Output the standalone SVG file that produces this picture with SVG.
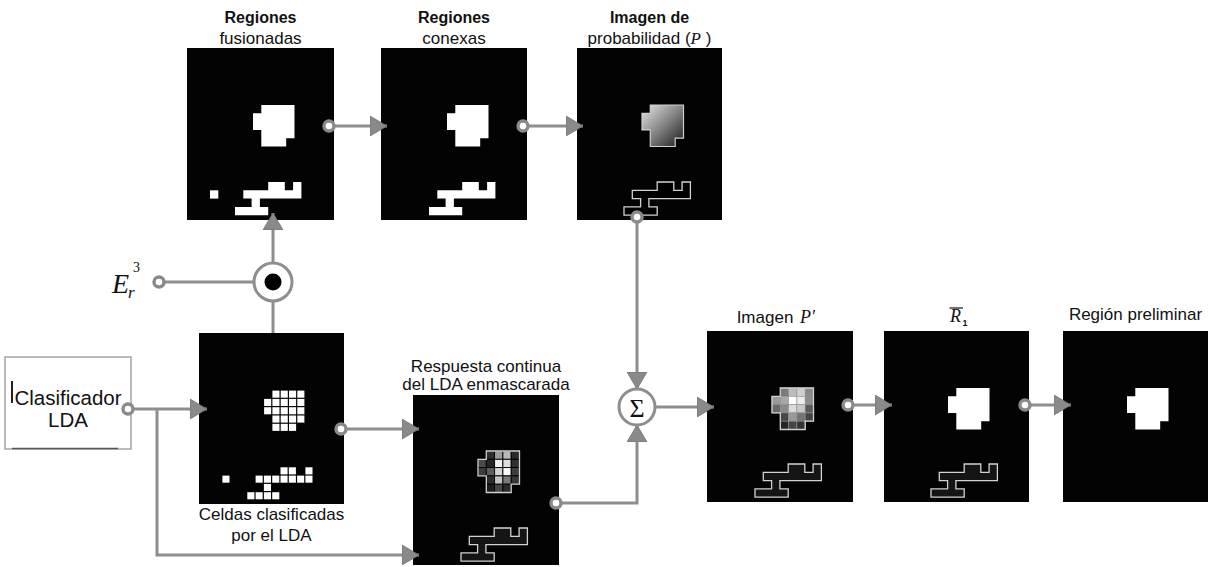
<svg xmlns="http://www.w3.org/2000/svg" xmlns:xlink="http://www.w3.org/1999/xlink" width="1211" height="567" viewBox="0 0 1211 567">
  <style>
    .panel { fill: #030303; }
    .white { fill: #ffffff; }
    .outline { fill: #151515; stroke: #d2d2d2; stroke-width: 1.3; }
    .outline-black { fill: #000000; stroke: #d2d2d2; stroke-width: 1.3; }
    .lbl { font-family: "Liberation Sans", Arial, sans-serif; font-size: 17px; fill: #111; text-anchor: middle; }
    .lblb { font-family: "Liberation Sans", Arial, sans-serif; font-size: 16px; font-weight: bold; fill: #111; text-anchor: middle; }
    .math { font-family: "Liberation Serif", "DejaVu Serif", serif; font-style: italic; fill: #111; }
    .wire { fill: none; stroke: #8e8e8e; stroke-width: 3; }
    .tap { fill: #ffffff; stroke: #8a8a8a; stroke-width: 3.4; }
    .op { fill: #ffffff; stroke: #8e8e8e; stroke-width: 3; }
    .cellg { stroke: #000; stroke-width: 0.9; }
    .cellp { stroke: #9a9a9a; stroke-width: 0.6; }
  </style>
  <defs>
    <!-- cell-grid shapes, cell size 8.3 -->
    <path id="blob" d="M8.3,0H41.5V33.2H33.2V41.5H8.3V24.9H0V8.3H8.3Z"/>
    <path id="lower" d="M33.2,0H49.8V8.3H58.1V0H66.4V16.6H24.9V24.9H33.2V33.2H0V24.9H16.6V16.6H8.3V8.3H33.2Z"/>
    <linearGradient id="probGrad" x1="0" y1="0" x2="1" y2="1">
      <stop offset="0" stop-color="#e8e8e8"/>
      <stop offset="0.45" stop-color="#8e8e8e"/>
      <stop offset="1" stop-color="#1a1a1a"/>
    </linearGradient>
    <marker id="head" markerUnits="userSpaceOnUse" viewBox="0 0 17 20" markerWidth="17" markerHeight="20" refX="17" refY="10" orient="auto">
      <path d="M0,0 L17,10 L0,20 Z" fill="#8a8a8a" stroke="#707070" stroke-width="0.8"/>
    </marker>
  </defs>

  <rect x="0" y="0" width="1211" height="567" fill="#ffffff"/>

  <!-- Regiones fusionadas -->
  <g id="panel-fusionadas">
    <text class="lblb" x="260.5" y="23">Regiones</text>
    <text class="lbl" x="260.5" y="44">fusionadas</text>
    <rect class="panel" x="187" y="48" width="147" height="172"/>
    <use href="#blob" x="253" y="105" class="white"/>
    <use href="#lower" x="235" y="182" class="white"/>
    <rect class="white" x="210" y="190.3" width="8.3" height="8.3"/>
  </g>

  <!-- Regiones conexas -->
  <g id="panel-conexas">
    <text class="lblb" x="454" y="23">Regiones</text>
    <text class="lbl" x="454" y="44">conexas</text>
    <rect class="panel" x="381" y="48" width="146" height="172"/>
    <use href="#blob" x="447" y="105" class="white"/>
    <use href="#lower" x="429" y="182" class="white"/>
  </g>

  <!-- Imagen de probabilidad -->
  <g id="panel-probabilidad">
    <text class="lblb" x="649.5" y="23">Imagen de</text>
    <text class="lbl" x="649.5" y="44">probabilidad (<tspan class="math">P</tspan> )</text>
    <rect class="panel" x="577" y="48" width="145" height="172"/>
    <use href="#blob" x="642" y="105" fill="url(#probGrad)" stroke="#cfcfcf" stroke-width="1.2"/>
    <use href="#lower" x="624" y="182" class="outline-black"/>
  </g>

  <!-- Celdas clasificadas por el LDA -->
  <g id="panel-celdas">
    <rect class="panel" x="199" y="333" width="145" height="171"/>
    <g transform="translate(263.5,390)" fill="#ffffff">
      <rect x="8.9" y="0.6" width="7.1" height="7.1"/><rect x="17.2" y="0.6" width="7.1" height="7.1"/><rect x="25.5" y="0.6" width="7.1" height="7.1"/><rect x="33.8" y="0.6" width="7.1" height="7.1"/>
      <rect x="0.6" y="8.9" width="7.1" height="7.1"/><rect x="8.9" y="8.9" width="7.1" height="7.1"/><rect x="17.2" y="8.9" width="7.1" height="7.1"/><rect x="25.5" y="8.9" width="7.1" height="7.1"/><rect x="33.8" y="8.9" width="7.1" height="7.1"/>
      <rect x="0.6" y="17.2" width="7.1" height="7.1"/><rect x="8.9" y="17.2" width="7.1" height="7.1"/><rect x="17.2" y="17.2" width="7.1" height="7.1"/><rect x="25.5" y="17.2" width="7.1" height="7.1"/><rect x="33.8" y="17.2" width="7.1" height="7.1"/>
      <rect x="8.9" y="25.5" width="7.1" height="7.1"/><rect x="17.2" y="25.5" width="7.1" height="7.1"/><rect x="25.5" y="25.5" width="7.1" height="7.1"/><rect x="33.8" y="25.5" width="7.1" height="7.1"/>
      <rect x="8.9" y="33.8" width="7.1" height="7.1"/><rect x="17.2" y="33.8" width="7.1" height="7.1"/><rect x="25.5" y="33.8" width="7.1" height="7.1"/>
    </g>
    <g transform="translate(246.7,466.7)" fill="#ffffff">
      <rect x="33.8" y="0.6" width="7.1" height="7.1"/><rect x="42.1" y="0.6" width="7.1" height="7.1"/><rect x="58.7" y="0.6" width="7.1" height="7.1"/>
      <rect x="8.9" y="8.9" width="7.1" height="7.1"/><rect x="17.2" y="8.9" width="7.1" height="7.1"/><rect x="25.5" y="8.9" width="7.1" height="7.1"/><rect x="33.8" y="8.9" width="7.1" height="7.1"/><rect x="42.1" y="8.9" width="7.1" height="7.1"/><rect x="50.4" y="8.9" width="7.1" height="7.1"/><rect x="58.7" y="8.9" width="7.1" height="7.1"/>
      <rect x="17.2" y="17.2" width="7.1" height="7.1"/>
      <rect x="0.6" y="25.5" width="7.1" height="7.1"/><rect x="8.9" y="25.5" width="7.1" height="7.1"/><rect x="17.2" y="25.5" width="7.1" height="7.1"/><rect x="25.5" y="25.5" width="7.1" height="7.1"/>
      <rect x="-24.3" y="8.9" width="7.1" height="7.1"/>
    </g>
    <text class="lbl" x="271.5" y="520">Celdas clasificadas</text>
    <text class="lbl" x="271.5" y="541">por el LDA</text>
  </g>

  <!-- Respuesta continua del LDA enmascarada -->
  <g id="panel-respuesta">
    <text class="lbl" x="486" y="372">Respuesta continua</text>
    <text class="lbl" x="486" y="390">del LDA enmascarada</text>
    <rect class="panel" x="413" y="395" width="146" height="170"/>
    <g transform="translate(478,451)" class="cellg">
      <rect x="8.3" y="0" width="8.3" height="8.3" fill="#2e2e2e"/><rect x="16.6" y="0" width="8.3" height="8.3" fill="#9c9c9c"/><rect x="24.9" y="0" width="8.3" height="8.3" fill="#b8b8b8"/><rect x="33.2" y="0" width="8.3" height="8.3" fill="#2a2a2a"/>
      <rect x="0" y="8.3" width="8.3" height="8.3" fill="#4a4a4a"/><rect x="8.3" y="8.3" width="8.3" height="8.3" fill="#262626"/><rect x="16.6" y="8.3" width="8.3" height="8.3" fill="#f2f2f2"/><rect x="24.9" y="8.3" width="8.3" height="8.3" fill="#dedede"/><rect x="33.2" y="8.3" width="8.3" height="8.3" fill="#303030"/>
      <rect x="0" y="16.6" width="8.3" height="8.3" fill="#3c3c3c"/><rect x="8.3" y="16.6" width="8.3" height="8.3" fill="#5e5e5e"/><rect x="16.6" y="16.6" width="8.3" height="8.3" fill="#d4d4d4"/><rect x="24.9" y="16.6" width="8.3" height="8.3" fill="#fafafa"/><rect x="33.2" y="16.6" width="8.3" height="8.3" fill="#3e3e3e"/>
      <rect x="8.3" y="24.9" width="8.3" height="8.3" fill="#2c2c2c"/><rect x="16.6" y="24.9" width="8.3" height="8.3" fill="#c4c4c4"/><rect x="24.9" y="24.9" width="8.3" height="8.3" fill="#7a7a7a"/><rect x="33.2" y="24.9" width="8.3" height="8.3" fill="#363636"/>
      <rect x="8.3" y="33.2" width="8.3" height="8.3" fill="#1c1c1c"/><rect x="16.6" y="33.2" width="8.3" height="8.3" fill="#474747"/><rect x="24.9" y="33.2" width="8.3" height="8.3" fill="#2a2a2a"/>
    </g>
    <use href="#blob" x="478" y="451" fill="none" stroke="#d0d0d0" stroke-width="1.3"/>
    <use href="#lower" x="461" y="528" class="outline"/>
  </g>

  <!-- Imagen P' -->
  <g id="panel-imagen-p">
    <text class="lbl" x="765" y="323">Imagen</text>
    <text class="math" x="800" y="323" font-size="18">P′</text>
    <rect class="panel" x="707" y="331" width="146" height="171"/>
    <g transform="translate(772,388)" class="cellp">
      <rect x="8.3" y="0" width="8.3" height="8.3" fill="#7a7a7a"/><rect x="16.6" y="0" width="8.3" height="8.3" fill="#bcbcbc"/><rect x="24.9" y="0" width="8.3" height="8.3" fill="#cfcfcf"/><rect x="33.2" y="0" width="8.3" height="8.3" fill="#8a8a8a"/>
      <rect x="0" y="8.3" width="8.3" height="8.3" fill="#9a9a9a"/><rect x="8.3" y="8.3" width="8.3" height="8.3" fill="#a8a8a8"/><rect x="16.6" y="8.3" width="8.3" height="8.3" fill="#ffffff"/><rect x="24.9" y="8.3" width="8.3" height="8.3" fill="#ececec"/><rect x="33.2" y="8.3" width="8.3" height="8.3" fill="#8c8c8c"/>
      <rect x="0" y="16.6" width="8.3" height="8.3" fill="#6a6a6a"/><rect x="8.3" y="16.6" width="8.3" height="8.3" fill="#8a8a8a"/><rect x="16.6" y="16.6" width="8.3" height="8.3" fill="#dcdcdc"/><rect x="24.9" y="16.6" width="8.3" height="8.3" fill="#c8c8c8"/><rect x="33.2" y="16.6" width="8.3" height="8.3" fill="#5a5a5a"/>
      <rect x="8.3" y="24.9" width="8.3" height="8.3" fill="#464646"/><rect x="16.6" y="24.9" width="8.3" height="8.3" fill="#9a9a9a"/><rect x="24.9" y="24.9" width="8.3" height="8.3" fill="#747474"/><rect x="33.2" y="24.9" width="8.3" height="8.3" fill="#444444"/>
      <rect x="8.3" y="33.2" width="8.3" height="8.3" fill="#262626"/><rect x="16.6" y="33.2" width="8.3" height="8.3" fill="#454545"/><rect x="24.9" y="33.2" width="8.3" height="8.3" fill="#333333"/>
    </g>
    <use href="#blob" x="772" y="388" fill="none" stroke="#d0d0d0" stroke-width="1.3"/>
    <use href="#lower" x="755" y="464" class="outline"/>
  </g>

  <!-- R1 -->
  <g id="panel-r1">
    <text class="math" x="950" y="322" font-size="18">R</text>
    <line x1="949.5" y1="308" x2="963" y2="308" stroke="#111" stroke-width="1.2"/>
    <text x="962.5" y="326" font-family="Liberation Sans, Arial, sans-serif" font-size="9" font-weight="bold" fill="#111">1</text>
    <rect class="panel" x="884" y="331" width="145" height="171"/>
    <use href="#blob" x="948" y="388" class="white"/>
    <use href="#lower" x="931" y="464" class="outline"/>
  </g>

  <!-- Región preliminar -->
  <g id="panel-preliminar">
    <text class="lbl" x="1135.5" y="320">Región preliminar</text>
    <rect class="panel" x="1063" y="331" width="145" height="171"/>
    <use href="#blob" x="1127" y="388" class="white"/>
  </g>

  <!-- Clasificador LDA -->
  <g id="node-clasificador">
    <rect x="5" y="357" width="126" height="92" fill="#ffffff" stroke="#a4a4a4" stroke-width="1.5"/>
    <line x1="12" y1="448.5" x2="118" y2="448.5" stroke="#555" stroke-width="1.3"/>
    <line x1="12" y1="381" x2="12" y2="403" stroke="#222" stroke-width="2"/>
    <text x="68" y="405" font-family="Liberation Sans, Arial, sans-serif" font-size="20.5" fill="#111" text-anchor="middle">Clasificador</text>
    <text x="68" y="427" font-family="Liberation Sans, Arial, sans-serif" font-size="20.5" fill="#111" text-anchor="middle">LDA</text>
  </g>

  <!-- E_r^3 input -->
  <g id="node-er3">
    <text class="math" x="112" y="293" font-size="28">E</text>
    <text class="math" x="128" y="298" font-size="17">r</text>
    <text x="133" y="272" font-family="Liberation Serif, serif" font-size="14" fill="#111">3</text>
  </g>

  <!-- connectors -->
  <g id="connectors">
    <path class="wire" d="M329,126 H387" marker-end="url(#head)"/>
    <path class="wire" d="M523,126 H583" marker-end="url(#head)"/>
    <path class="wire" d="M637,217 V389" marker-end="url(#head)"/>
    <path class="wire" d="M556,503 H637 V425" marker-end="url(#head)"/>
    <path class="wire" d="M655,407 H714" marker-end="url(#head)"/>
    <path class="wire" d="M848,405 H892" marker-end="url(#head)"/>
    <path class="wire" d="M1025,405 H1071" marker-end="url(#head)"/>
    <path class="wire" d="M341,429 H419" marker-end="url(#head)"/>
    <path class="wire" d="M128,409 H207" marker-end="url(#head)"/>
    <path class="wire" d="M157,409 V555 H419" marker-end="url(#head)"/>
    <path class="wire" d="M273,333 V301"/>
    <path class="wire" d="M273,263 V213" marker-end="url(#head)"/>
    <path class="wire" d="M159,282 H254"/>
    <circle class="tap" cx="329" cy="126" r="5"/>
    <circle class="tap" cx="523" cy="126" r="5"/>
    <circle class="tap" cx="637" cy="217" r="5"/>
    <circle class="tap" cx="556" cy="503" r="5"/>
    <circle class="tap" cx="848" cy="405" r="5"/>
    <circle class="tap" cx="1025" cy="405" r="5"/>
    <circle class="tap" cx="341" cy="429" r="5"/>
    <circle class="tap" cx="128" cy="409" r="5"/>
    <circle class="tap" cx="159" cy="282" r="5"/>
  </g>

  <!-- summation node -->
  <g id="node-sum">
    <circle class="op" cx="637" cy="407" r="18"/>
    <text x="637" y="416.5" font-family="Liberation Serif, serif" font-size="26" fill="#111" text-anchor="middle">Σ</text>
  </g>

  <!-- element-wise product node -->
  <g id="node-product">
    <circle class="op" cx="273" cy="282" r="19"/>
    <circle cx="273" cy="282" r="8.5" fill="#000"/>
  </g>
</svg>
